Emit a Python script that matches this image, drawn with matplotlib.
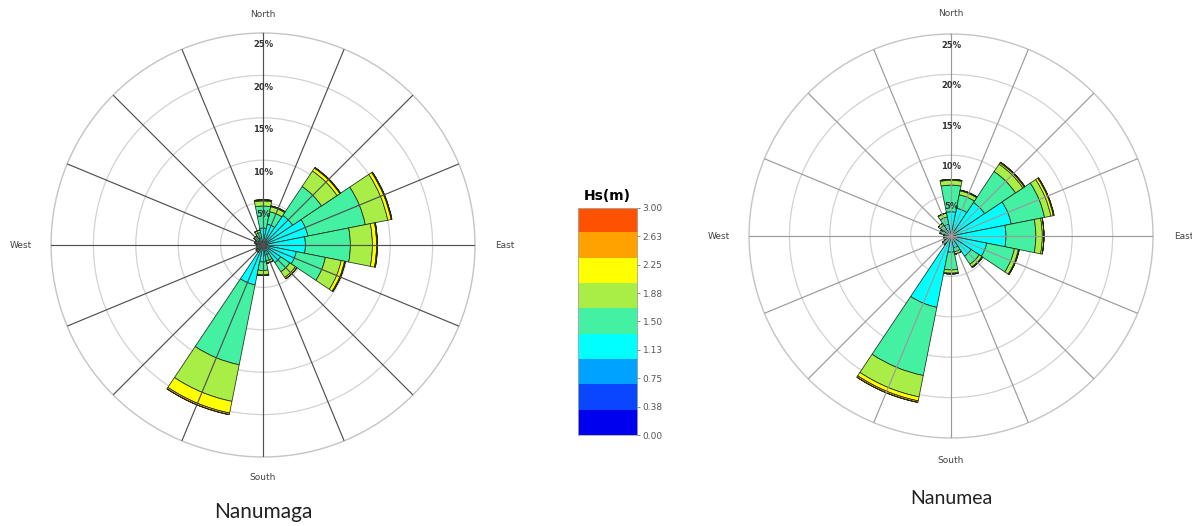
import numpy as np
import matplotlib
matplotlib.use("Agg")
import matplotlib.pyplot as plt
from matplotlib.colors import ListedColormap

# ---------------- data ----------------
directions = ["N", "NNE", "NE", "ENE", "E", "ESE", "SE", "SSE",
              "S", "SSW", "SW", "WSW", "W", "WNW", "NW", "NNW"]
hs_ticks = ["0.00", "0.38", "0.75", "1.13", "1.50", "1.88", "2.25", "2.63", "3.00"]
bin_colors = ["#0000EE", "#0A46FF", "#00A2FF", "#00FFFF", "#44F0A2",
              "#A8EE46", "#FFFF00", "#FFA200", "#FF5200"]

# Nanumaga: frequency (%) per Hs bin, per direction
nanumaga_b0 = [0.05, 0.05, 0.05, 0.05, 0.05, 0.05, 0.05, 0.05, 0.05, 0.05, 0.05, 0.05, 0.05, 0.05, 0.05, 0.05]
nanumaga_b1 = [0.10, 0.10, 0.15, 0.15, 0.15, 0.15, 0.10, 0.10, 0.10, 0.15, 0.10, 0.10, 0.10, 0.10, 0.10, 0.10]
nanumaga_b2 = [0.25, 0.25, 0.30, 0.30, 0.30, 0.30, 0.25, 0.15, 0.15, 0.30, 0.15, 0.15, 0.15, 0.15, 0.15, 0.15]
nanumaga_b3 = [1.6, 2.1, 3.7, 4.9, 4.5, 3.5, 2.1, 0.9, 1.7, 4.3, 0.4, 0.2, 0.2, 0.3, 0.4, 0.6]
nanumaga_b4 = [2.6, 1.5, 4.1, 6.9, 5.3, 3.5, 1.3, 0.7, 1.0, 9.6, 0.2, 0.2, 0.2, 0.3, 0.4, 0.6]
nanumaga_b5 = [0.6, 0.6, 2.2, 2.7, 2.6, 1.9, 0.8, 0.3, 0.5, 4.4, 0.1, 0.1, 0.1, 0.1, 0.2, 0.3]
nanumaga_b6 = [0.1, 0.1, 0.4, 0.4, 0.5, 0.4, 0.2, 0.0, 0.1, 1.4, 0.0, 0.0, 0.0, 0.0, 0.0, 0.0]
nanumaga_b7 = [0.05, 0.0, 0.1, 0.1, 0.1, 0.1, 0.0, 0.0, 0.0, 0.2, 0.0, 0.0, 0.0, 0.0, 0.0, 0.0]
nanumaga_b8 = [0.0] * 16

# Nanumea: frequency (%) per Hs bin, per direction
nanumea_b0 = [0.05, 0.05, 0.05, 0.05, 0.05, 0.05, 0.05, 0.05, 0.05, 0.05, 0.05, 0.05, 0.05, 0.05, 0.05, 0.05]
nanumea_b1 = [0.10, 0.10, 0.15, 0.15, 0.15, 0.15, 0.10, 0.10, 0.10, 0.15, 0.10, 0.10, 0.10, 0.10, 0.10, 0.10]
nanumea_b2 = [0.25, 0.25, 0.30, 0.30, 0.30, 0.30, 0.25, 0.15, 0.15, 0.30, 0.15, 0.15, 0.15, 0.15, 0.15, 0.15]
nanumea_b3 = [2.6, 3.1, 4.5, 7.1, 6.3, 4.0, 2.6, 1.2, 1.7, 8.5, 0.7, 0.3, 0.3, 0.5, 0.7, 1.2]
nanumea_b4 = [3.3, 1.7, 4.6, 4.2, 3.7, 3.5, 1.2, 0.5, 2.2, 8.6, 0.2, 0.2, 0.2, 0.4, 0.6, 0.9]
nanumea_b5 = [0.6, 0.5, 1.1, 0.8, 0.8, 0.5, 0.4, 0.3, 0.4, 2.7, 0.1, 0.1, 0.1, 0.2, 0.3, 0.5]
nanumea_b6 = [0.1, 0.1, 0.2, 0.3, 0.2, 0.1, 0.1, 0.0, 0.1, 0.5, 0.0, 0.0, 0.0, 0.0, 0.0, 0.0]
nanumea_b7 = [0.0, 0.0, 0.1, 0.1, 0.0, 0.0, 0.0, 0.0, 0.0, 0.2, 0.0, 0.0, 0.0, 0.0, 0.0, 0.0]
nanumea_b8 = [0.0] * 16

ring_values = [5, 10, 15, 20, 25]
compass_labels = ["North", "East", "South", "West"]

nanumaga = [nanumaga_b0, nanumaga_b1, nanumaga_b2, nanumaga_b3, nanumaga_b4,
            nanumaga_b5, nanumaga_b6, nanumaga_b7, nanumaga_b8]
nanumea = [nanumea_b0, nanumea_b1, nanumea_b2, nanumea_b3, nanumea_b4,
           nanumea_b5, nanumea_b6, nanumea_b7, nanumea_b8]

fig = plt.figure(figsize=(11.92, 5.26), dpi=100)
fig.patch.set_facecolor("white")


def draw_rose(rect, bins, title, title_y, title_size, spoke_color, lab_r):
    ax = fig.add_axes(rect, projection="polar")
    ax.set_theta_zero_location("N")
    ax.set_theta_direction(-1)
    n = len(directions)
    theta = np.deg2rad(np.arange(n) * 360.0 / n)
    width = np.deg2rad(360.0 / n)
    bottom = np.zeros(n)
    for vals, col in zip(bins, bin_colors):
        vals = np.asarray(vals, dtype=float)
        ax.bar(theta, vals, width=width, bottom=bottom, color=col,
               edgecolor="#1e2a1e", linewidth=0.55, zorder=2)
        bottom = bottom + vals
    ax.set_ylim(0, 25)
    ax.set_yticks(ring_values[:-1])
    ax.set_yticklabels([])
    ax.set_xticks([])
    ax.yaxis.grid(True, color="#d2d2d2", linewidth=0.9)
    ax.xaxis.grid(False)
    ax.set_axisbelow(True)
    ax.spines["polar"].set_color("#c4c4c4")
    ax.spines["polar"].set_linewidth(1.0)
    # spokes on top of bars
    for t in theta:
        ax.plot([t, t], [0, 25], color=spoke_color, linewidth=0.85, zorder=3)
    # ring labels
    for r in ring_values:
        ax.text(0, r - 1.4, f"{r}%", ha="center", va="center", fontsize=6,
                fontweight="bold", color="#333333", zorder=4)
    # compass labels
    for lab, ang, rr in zip(compass_labels, [0, 90, 180, 270], lab_r):
        ax.text(np.deg2rad(ang), rr, lab, ha="center", va="center",
                fontsize=6.5, color="#444444", clip_on=False)
    fig.text(rect[0] + rect[2] / 2, title_y, title, ha="center", va="center",
             fontsize=title_size, family="Lato", color="#222222")
    return ax


draw_rose([0.0428, 0.1312, 0.3557, 0.806], nanumaga, "Nanumaga", 0.027, 15,
          "#505050", [27.2, 28.5, 27.4, 28.6])
draw_rose([0.6284, 0.1673, 0.3389, 0.768], nanumea, "Nanumea", 0.053, 14,
          "#9a9a9a", [27.5, 28.8, 27.8, 28.8])

# colorbar
cax = fig.add_axes([0.4849, 0.173, 0.0495, 0.4316])
cmap = ListedColormap(bin_colors)
cax.imshow(np.arange(len(bin_colors))[:, None], cmap=cmap, aspect="auto",
           origin="lower", extent=[0, 1, 0, len(bin_colors)])
cax.set_xticks([])
cax.yaxis.tick_right()
cax.set_yticks(np.linspace(0, len(bin_colors), len(hs_ticks)))
cax.set_yticklabels(hs_ticks, fontsize=6.5, color="#555555")
cax.tick_params(axis="y", length=2, width=0.6, color="#777777", pad=2)
for s in cax.spines.values():
    s.set_color("#aaaaaa")
    s.set_linewidth(0.6)
cax.set_title("Hs(m)", fontsize=10, fontweight="bold", pad=6)

fig.savefig("out.png", dpi=100, facecolor="white")
